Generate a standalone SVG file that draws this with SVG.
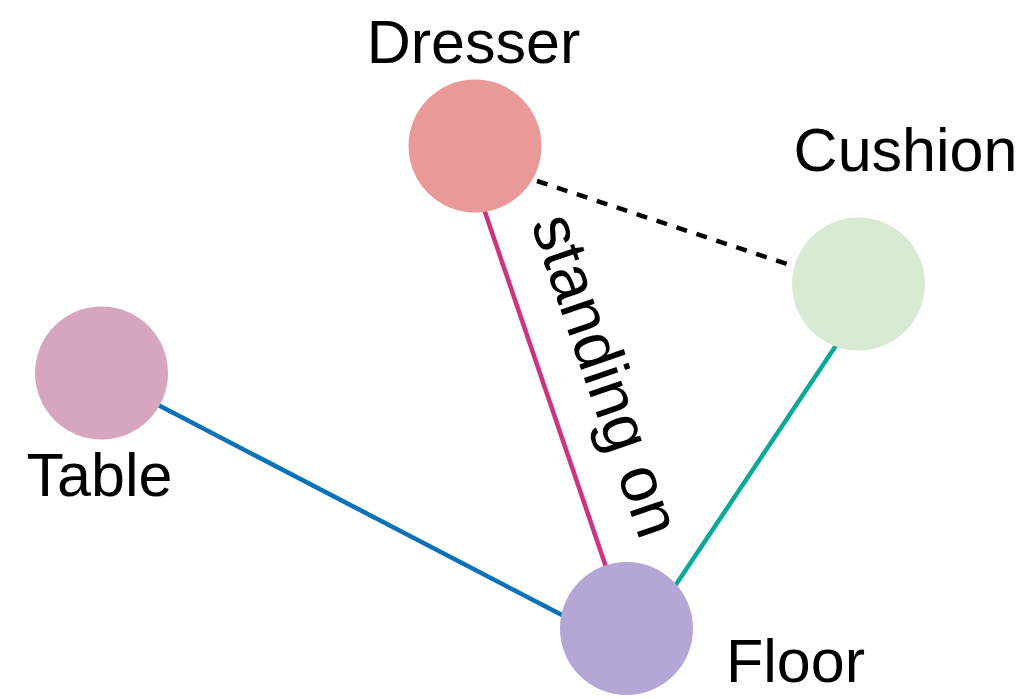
<svg xmlns="http://www.w3.org/2000/svg" width="1030" height="699" viewBox="0 0 1030 699">
<style>
  .lbl { font-family: "Liberation Sans", Arial, Helvetica, sans-serif; font-size: 61px; fill: #000; }
  .elbl { font-family: "Liberation Sans", Arial, Helvetica, sans-serif; font-size: 65px; fill: #000; }
  .edge { fill: none; stroke-width: 4.5; }
</style>
<rect width="1030" height="699" fill="#ffffff"/>
<g id="connectors">
  <line class="edge" x1="480.9" y1="200" x2="617.3" y2="600" stroke="#CC3380"/>
  <line class="edge" x1="140" y1="395.6" x2="600" y2="634.8" stroke="#0A72BB"/>
  <line class="edge" x1="846.4" y1="330" x2="665.6" y2="600" stroke="#0BA89B"/>
  <line class="edge" x1="537" y1="181" x2="792" y2="265.7" stroke="#000000" stroke-dasharray="11 10"/>
  <text class="elbl" text-anchor="middle" transform="translate(585.5,382.5) rotate(71)">standing on</text>
</g>
<g id="node-dresser">
  <circle cx="475" cy="146" r="66.5" fill="#EA9999"/>
  <text class="lbl" x="473.5" y="63" text-anchor="middle">Dresser</text>
</g>
<g id="node-cushion">
  <circle cx="858.5" cy="284" r="66.5" fill="#D9EAD3"/>
  <text class="lbl" x="905.5" y="171" text-anchor="middle">Cushion</text>
</g>
<g id="node-table">
  <circle cx="101.5" cy="373" r="66.5" fill="#D5A6BD"/>
  <text class="lbl" x="99.5" y="496" text-anchor="middle">Table</text>
</g>
<g id="node-floor">
  <circle cx="626.5" cy="628.5" r="66.5" fill="#B4A7D6"/>
  <text class="lbl" x="726" y="682">Floor</text>
</g>
</svg>
